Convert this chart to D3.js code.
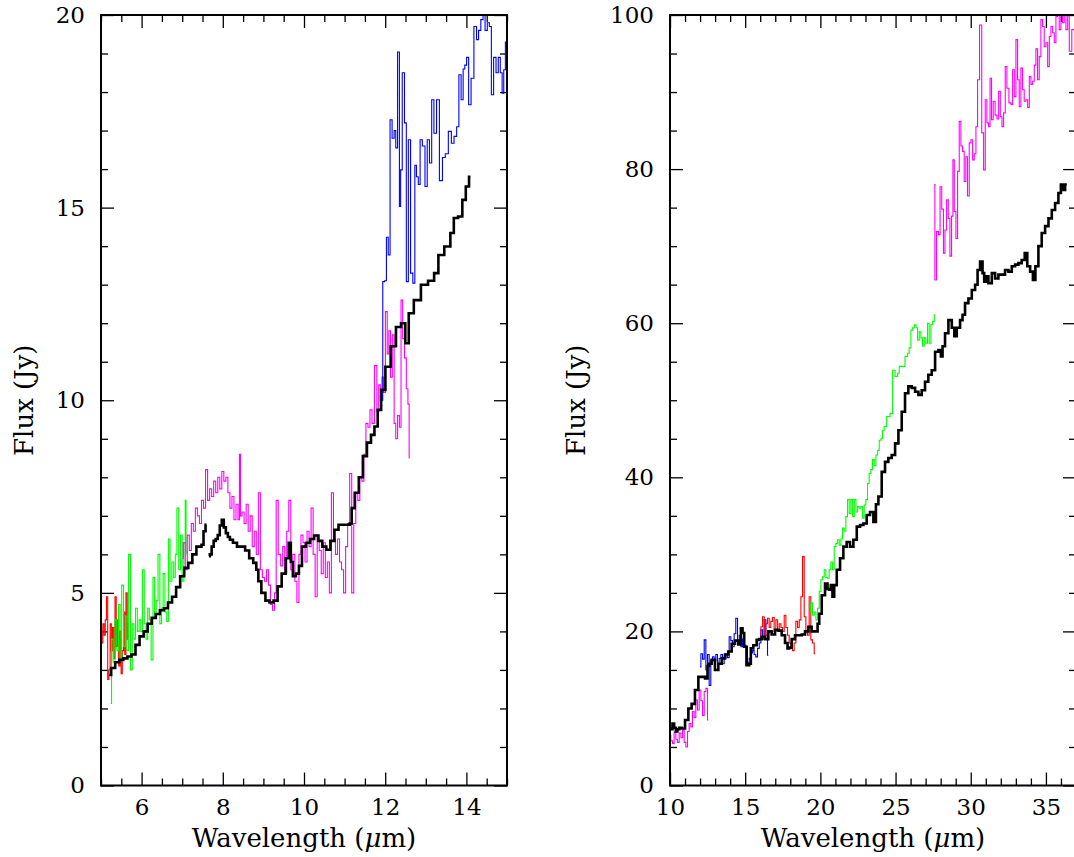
<!DOCTYPE html>
<html>
<head>
<meta charset="utf-8">
<script src="https://cdn.jsdelivr.net/npm/d3@7"></script>
<style>
  html, body { margin: 0; padding: 0; background: #fff; }
  svg { display: block; }
</style>
</head>
<body>
<script>
// ---------------- DATA ----------------
const leftXTicks = [6, 8, 10, 12, 14];
const leftYTicks = [0, 5, 10, 15, 20];
const rightXTicks = [10, 15, 20, 25, 30, 35];
const rightYTicks = [0, 20, 40, 60, 80, 100];

const leftRed = [[5.00,4.0],[5.03,3.7],[5.06,4.2],[5.09,3.9],[5.12,4.3],[5.15,4.9],[5.18,2.75],[5.21,3.0],[5.24,4.2],[5.27,3.5],[5.30,4.1],[5.33,3.3],[5.36,4.9],[5.39,3.6],[5.42,4.3],[5.45,3.1],[5.48,4.0],[5.51,2.9],[5.54,3.5],[5.57,4.5],[5.60,3.4],[5.63,5.0],[5.66,3.8],[5.69,4.2]];

const leftGreen = [[5.24,2.13],[5.28,3.8],[5.32,3.2],[5.37,4.3],[5.41,3.5],[5.45,4.7],[5.49,3.3],[5.53,5.2],[5.58,3.6],[5.62,4.4],[5.66,3.5],[5.70,6.0],[5.75,3.0],[5.79,4.2],[5.83,3.8],[5.87,4.6],[5.92,4.0],[5.96,4.3],[6.00,4.0],[6.04,5.6],[6.09,4.2],[6.13,3.8],[6.17,4.6],[6.21,4.3],[6.26,3.26],[6.30,5.4],[6.34,4.4],[6.38,4.8],[6.43,6.0],[6.47,4.2],[6.51,4.6],[6.55,5.5],[6.60,4.5],[6.64,4.26],[6.68,6.4],[6.72,5.3],[6.77,5.8],[6.81,5.4],[6.85,6.0],[6.89,7.2],[6.94,5.6],[6.98,6.5],[7.02,5.3],[7.06,6.3],[7.09,7.4],[7.10,6.0]];

const leftMagenta = [[7.00,5.9],[7.05,6.3],[7.10,5.6],[7.15,6.5],[7.20,6.1],[7.25,6.8],[7.30,6.6],[7.35,7.2],[7.40,7.0],[7.45,6.8],[7.50,7.4],[7.55,7.2],[7.60,8.2],[7.65,7.4],[7.70,7.7],[7.75,7.5],[7.80,7.9],[7.85,7.6],[7.90,8.0],[7.95,7.7],[8.00,8.15],[8.05,7.9],[8.10,8.0],[8.15,7.6],[8.20,7.2],[8.25,7.5],[8.30,6.9],[8.35,7.3],[8.40,6.9],[8.42,8.6],[8.45,7.0],[8.50,7.1],[8.55,6.8],[8.60,7.3],[8.65,6.6],[8.70,7.0],[8.75,6.2],[8.80,6.6],[8.85,6.0],[8.90,7.6],[8.95,5.6],[9.00,5.4],[9.05,5.3],[9.10,5.6],[9.15,5.2],[9.20,4.7],[9.25,4.55],[9.30,5.0],[9.33,7.4],[9.40,6.0],[9.45,5.7],[9.50,6.2],[9.55,5.5],[9.60,6.6],[9.65,7.4],[9.70,5.6],[9.75,6.0],[9.80,5.3],[9.85,4.75],[9.90,6.0],[9.95,6.5],[10.00,6.3],[10.05,5.8],[10.10,6.6],[10.15,6.2],[10.20,7.2],[10.25,6.0],[10.30,4.9],[10.35,6.5],[10.40,6.1],[10.45,5.5],[10.50,6.3],[10.55,5.4],[10.60,5.8],[10.65,5.0],[10.70,7.6],[10.75,6.4],[10.80,6.0],[10.85,6.4],[10.90,5.8],[10.95,5.6],[11.00,5.0],[11.05,6.2],[11.10,6.8],[11.15,8.1],[11.20,5.0],[11.25,6.8],[11.30,7.6],[11.35,7.4],[11.40,8.0],[11.45,7.9],[11.50,8.6],[11.55,9.4],[11.60,9.3],[11.65,9.75],[11.70,9.4],[11.77,10.9],[11.82,9.7],[11.86,10.4],[11.90,10.0],[11.94,10.6],[11.98,10.2],[12.03,12.3],[12.07,11.2],[12.11,11.8],[12.15,10.6],[12.20,11.7],[12.24,9.4],[12.28,9.0],[12.33,9.6],[12.37,9.3],[12.41,12.6],[12.45,11.6],[12.50,11.1],[12.54,10.3],[12.58,9.9],[12.60,8.5]];

const leftBlue = [[11.92,10.0],[11.96,13.08],[12.01,13.1],[12.05,14.23],[12.10,13.77],[12.14,17.28],[12.20,16.8],[12.24,17.0],[12.28,16.55],[12.33,19.04],[12.37,15.03],[12.39,15.98],[12.45,18.5],[12.50,17.2],[12.54,13.08],[12.60,16.76],[12.65,13.3],[12.71,13.04],[12.75,16.1],[12.79,15.8],[12.84,15.6],[12.88,16.76],[12.95,16.6],[13.01,15.55],[13.06,16.76],[13.12,16.16],[13.17,17.8],[13.23,16.93],[13.30,17.8],[13.37,15.7],[13.45,16.3],[13.51,16.4],[13.60,16.98],[13.66,16.67],[13.73,16.85],[13.79,17.1],[13.84,18.45],[13.90,17.8],[13.94,18.6],[13.98,18.7],[14.03,18.9],[14.08,17.67],[14.15,18.36],[14.22,19.7],[14.28,19.36],[14.32,19.6],[14.39,19.88],[14.43,20.2],[14.49,19.6],[14.54,19.8],[14.59,19.7],[14.64,17.93],[14.70,18.9],[14.76,18.5],[14.81,18.9],[14.86,18.5],[14.90,17.97],[14.94,18.58],[14.98,19.3],[15.03,19.5]];

const leftBlack = [[5.20,2.87],[5.30,3.05],[5.40,3.2],[5.50,3.26],[5.60,3.3],[5.70,3.35],[5.80,3.4],[5.90,3.65],[6.00,3.87],[6.10,4.0],[6.20,4.2],[6.30,4.35],[6.40,4.45],[6.50,4.55],[6.60,4.6],[6.70,4.75],[6.80,4.9],[6.90,5.15],[7.00,5.43],[7.10,5.65],[7.20,5.78],[7.30,6.0],[7.40,6.2],[7.45,6.2],[7.50,6.25],[7.55,6.6],[7.60,6.77],[7.63,null],[7.66,5.95],[7.70,6.0],[7.75,6.2],[7.80,6.35],[7.85,6.4],[7.90,6.5],[7.95,6.75],[8.00,6.9],[8.05,6.7],[8.10,6.55],[8.15,6.45],[8.20,6.38],[8.30,6.3],[8.40,6.2],[8.50,6.2],[8.60,6.1],[8.70,5.9],[8.80,5.78],[8.85,5.6],[8.90,5.3],[9.00,5.0],[9.10,4.8],[9.20,4.75],[9.30,4.8],[9.40,5.17],[9.50,5.5],[9.60,5.9],[9.65,6.3],[9.70,5.8],[9.75,5.43],[9.85,5.5],[9.90,5.7],[10.00,6.2],[10.10,6.3],[10.20,6.4],[10.30,6.49],[10.40,6.35],[10.50,6.2],[10.60,6.12],[10.70,6.35],[10.80,6.64],[10.90,6.77],[11.00,6.77],[11.10,6.77],[11.15,6.8],[11.20,7.2],[11.30,7.6],[11.40,8.0],[11.50,8.55],[11.60,8.9],[11.70,9.1],[11.77,9.32],[11.86,9.75],[11.94,10.27],[12.07,10.87],[12.20,11.4],[12.33,11.9],[12.45,12.0],[12.54,11.48],[12.62,12.26],[12.79,12.6],[12.97,13.0],[13.14,13.1],[13.27,13.3],[13.35,13.77],[13.56,13.99],[13.65,14.34],[13.73,14.73],[13.86,14.77],[13.94,15.2],[14.03,15.55],[14.10,15.8]];

const rightMagentaLow = [[10.00,6.5],[10.11,5.8],[10.22,5.45],[10.33,6.9],[10.44,6.0],[10.55,5.6],[10.67,6.8],[10.78,6.2],[10.89,7.2],[11.00,5.6],[11.11,5.0],[11.22,7.0],[11.33,8.05],[11.44,7.6],[11.55,9.6],[11.66,8.8],[11.77,11.1],[11.88,9.8],[12.00,12.4],[12.11,11.0],[12.22,9.1],[12.33,12.2],[12.44,12.6],[12.55,8.5]];

const rightBlue = [[12.00,15.4],[12.11,17.1],[12.22,16.4],[12.33,18.9],[12.44,15.0],[12.55,17.0],[12.66,13.0],[12.77,16.3],[12.88,16.7],[12.99,16.2],[13.10,17.0],[13.21,16.0],[13.33,16.5],[13.44,17.0],[13.55,15.8],[13.66,16.5],[13.77,17.1],[13.88,16.6],[13.99,19.3],[14.10,18.8],[14.21,18.0],[14.32,19.7],[14.43,21.7],[14.55,18.5],[14.66,19.5],[14.77,18.0],[14.88,19.0],[14.99,18.2],[15.10,15.6],[15.21,16.0],[15.32,16.5],[15.43,17.2],[15.54,17.5],[15.65,17.0],[15.76,16.7],[15.88,17.8],[15.99,18.5],[16.10,20.2],[16.21,19.0],[16.32,21.5],[16.43,19.5],[16.54,16.9]];

const rightRed = [[15.99,19.3],[16.10,20.6],[16.21,21.9],[16.32,19.1],[16.43,21.0],[16.54,21.7],[16.65,20.5],[16.76,21.3],[16.87,21.8],[16.98,20.0],[17.10,21.5],[17.21,20.2],[17.32,21.0],[17.43,20.5],[17.54,20.0],[17.65,22.1],[17.76,20.5],[17.87,19.5],[17.98,18.5],[18.09,18.0],[18.20,17.5],[18.31,18.5],[18.43,21.3],[18.54,20.5],[18.65,21.5],[18.76,24.5],[18.87,29.7],[18.98,21.9],[19.09,20.0],[19.20,19.5],[19.31,24.5],[19.42,18.9],[19.53,18.5],[19.65,17.1]];

const rightGreen = [[19.31,22.6],[19.42,23.7],[19.53,22.1],[19.65,22.5],[19.76,21.5],[19.87,23.0],[19.98,25.2],[20.09,26.7],[20.20,27.1],[20.31,28.0],[20.42,27.0],[20.53,26.9],[20.64,28.0],[20.75,29.0],[20.86,28.0],[20.98,31.0],[21.09,31.4],[21.20,31.9],[21.31,31.2],[21.42,32.0],[21.53,33.4],[21.64,33.0],[21.75,34.9],[21.86,37.1],[21.97,35.3],[22.08,37.1],[22.20,34.9],[22.31,37.1],[22.42,35.5],[22.53,36.2],[22.64,36.0],[22.75,36.2],[22.86,34.7],[22.97,36.4],[23.08,37.1],[23.19,39.2],[23.30,40.5],[23.41,41.0],[23.53,42.3],[23.64,41.5],[23.75,42.9],[23.86,43.5],[23.97,44.8],[24.08,45.0],[24.19,46.1],[24.30,46.6],[24.52,47.9],[24.75,48.3],[24.86,53.9],[25.08,53.1],[25.19,53.5],[25.30,54.4],[25.52,54.4],[25.74,55.7],[25.85,56.1],[25.96,56.8],[26.08,59.1],[26.19,59.4],[26.30,59.8],[26.41,59.4],[26.52,57.8],[26.63,58.9],[26.74,58.1],[26.85,57.0],[26.96,58.1],[27.07,57.4],[27.18,60.0],[27.29,57.4],[27.41,59.8],[27.52,60.2],[27.63,61.1]];

const rightMagentaHigh = [[27.56,78.0],[27.67,65.6],[27.78,71.9],[27.92,71.5],[28.00,77.7],[28.14,74.8],[28.23,69.1],[28.34,72.1],[28.45,76.0],[28.56,73.6],[28.67,68.7],[28.78,73.9],[28.85,81.2],[28.96,74.5],[29.07,71.0],[29.18,79.7],[29.29,86.2],[29.40,83.0],[29.51,82.3],[29.62,78.4],[29.73,81.6],[29.84,76.5],[29.96,83.4],[30.07,83.8],[30.18,81.2],[30.29,82.0],[30.40,85.5],[30.51,91.6],[30.66,98.7],[30.80,84.7],[30.91,79.9],[31.02,89.0],[31.13,86.0],[31.24,85.5],[31.33,91.8],[31.44,86.4],[31.55,88.8],[31.69,87.0],[31.80,86.5],[31.91,90.1],[32.02,86.8],[32.13,85.5],[32.24,87.3],[32.35,93.3],[32.46,90.5],[32.62,88.6],[32.73,88.4],[32.84,92.9],[32.95,89.4],[33.06,96.8],[33.17,91.6],[33.28,88.1],[33.39,93.1],[33.50,90.3],[33.61,88.8],[33.73,89.0],[33.84,88.0],[33.95,92.0],[34.06,91.0],[34.17,91.4],[34.28,93.5],[34.39,95.6],[34.50,91.6],[34.61,94.6],[34.72,99.4],[34.83,98.5],[34.94,95.9],[35.06,96.4],[35.17,93.3],[35.28,97.2],[35.39,98.5],[35.50,97.7],[35.61,96.4],[35.72,99.8],[35.83,100.5],[35.94,98.1],[36.05,100.5],[36.16,99.0],[36.27,101],[36.39,98.1],[36.50,100.5],[36.61,95.3],[36.83,98.1],[37.05,99.0]];

const rightBlack = [[10.00,7.4],[10.11,7.3],[10.22,8.05],[10.33,7.5],[10.44,7.0],[10.55,7.3],[10.67,7.5],[10.89,7.4],[11.11,8.5],[11.33,10.0],[11.55,10.6],[11.77,12.4],[12.00,14.1],[12.22,14.1],[12.44,13.9],[12.55,15.5],[12.66,15.8],[12.88,16.3],[13.10,15.0],[13.33,15.8],[13.55,16.5],[13.77,17.0],[13.99,17.4],[14.21,18.4],[14.43,18.8],[14.66,18.3],[14.77,20.4],[14.88,19.8],[14.99,18.0],[15.21,15.6],[15.32,15.8],[15.43,17.8],[15.65,18.2],[15.88,18.9],[15.99,19.0],[16.21,19.3],[16.43,19.0],[16.65,20.0],[16.87,19.6],[17.10,20.2],[17.32,20.1],[17.54,19.5],[17.76,18.5],[17.87,17.8],[17.98,17.9],[18.20,19.0],[18.43,19.5],[18.65,19.5],[18.87,19.6],[19.09,20.0],[19.31,20.6],[19.53,20.0],[19.76,20.0],[19.87,21.0],[19.98,22.3],[20.20,24.7],[20.42,26.2],[20.53,25.5],[20.64,25.4],[20.75,26.0],[20.86,24.5],[20.98,26.0],[21.20,28.0],[21.42,29.5],[21.64,31.0],[21.86,31.6],[22.08,31.0],[22.31,31.9],[22.53,33.6],[22.75,33.8],[22.97,34.0],[23.19,35.1],[23.41,35.5],[23.64,34.2],[23.75,36.5],[23.97,37.5],[24.19,40.7],[24.41,42.0],[24.63,42.5],[24.86,42.9],[25.08,44.4],[25.30,46.1],[25.52,48.5],[25.74,50.9],[25.96,51.8],[26.19,51.6],[26.41,51.1],[26.63,50.7],[26.85,51.3],[27.07,52.4],[27.29,53.3],[27.52,53.9],[27.74,56.3],[27.96,56.5],[28.07,55.7],[28.18,57.0],[28.40,58.7],[28.63,60.4],[28.85,59.4],[28.96,58.3],[29.18,59.4],[29.40,60.4],[29.51,61.1],[29.73,62.6],[29.96,63.2],[30.18,64.3],[30.40,65.0],[30.51,66.9],[30.73,68.0],[30.84,66.5],[30.95,65.4],[31.06,66.1],[31.29,65.2],[31.51,66.5],[31.73,65.8],[31.95,66.3],[32.17,66.3],[32.39,66.9],[32.62,66.7],[32.84,67.4],[33.06,67.6],[33.28,67.8],[33.50,68.2],[33.68,69.1],[33.84,67.4],[34.06,66.7],[34.21,65.6],[34.39,67.4],[34.61,70.0],[34.83,71.7],[35.06,72.6],[35.28,73.6],[35.50,74.7],[35.72,75.6],[35.94,76.9],[36.05,78.0],[36.16,77.3],[36.39,78.0]];

const xTitleParts = ["Wavelength (", "\u03BC", "m)"];
const yTitle = "Flux (Jy)";

// ---------------- DRAWING ----------------
const W = 1074, H = 857;
const svg = d3.select("body").append("svg").attr("width", W).attr("height", H);
const FONT = "'DejaVu Serif', 'Liberation Serif', serif";

function panel(cfg) {
  const { id, x0, y0, w, h, xDomain, yDomain, xTicks, yTicks, xMinorStep, yMinorStep, series } = cfg;
  const x = d3.scaleLinear().domain(xDomain).range([x0, x0 + w]);
  const y = d3.scaleLinear().domain(yDomain).range([y0 + h, y0]);
  const g = svg.append("g");

  svg.append("defs").append("clipPath").attr("id", id)
    .append("rect").attr("x", x0).attr("y", y0).attr("width", w).attr("height", h);

  const xMinor = d3.range(xDomain[0], xDomain[1] + 1e-9, xMinorStep).filter(v => !xTicks.includes(v));
  const yMinor = d3.range(yDomain[0], yDomain[1] + 1e-9, yMinorStep).filter(v => !yTicks.includes(v));

  const styleAxis = sel => {
    sel.select(".domain").remove();
    sel.selectAll(".tick line").attr("stroke", "#000").attr("stroke-width", 1.3);
    sel.selectAll("text").attr("font-family", FONT).attr("font-size", 23).attr("fill", "#000");
  };

  g.append("g").attr("transform", `translate(0,${y0 + h})`)
    .call(d3.axisBottom(x).tickValues(xTicks).tickSize(-13).tickPadding(13).tickFormat(d3.format("d")))
    .call(styleAxis);
  g.append("g").attr("transform", `translate(0,${y0 + h})`)
    .call(d3.axisBottom(x).tickValues(xMinor).tickSize(-7).tickFormat(""))
    .call(styleAxis);
  g.append("g").attr("transform", `translate(0,${y0})`)
    .call(d3.axisTop(x).tickValues(xTicks).tickSize(-13).tickFormat(""))
    .call(styleAxis);
  g.append("g").attr("transform", `translate(0,${y0})`)
    .call(d3.axisTop(x).tickValues(xMinor).tickSize(-7).tickFormat(""))
    .call(styleAxis);
  g.append("g").attr("transform", `translate(${x0},0)`)
    .call(d3.axisLeft(y).tickValues(yTicks).tickSize(-13).tickPadding(16).tickFormat(d3.format("d")))
    .call(styleAxis);
  g.append("g").attr("transform", `translate(${x0},0)`)
    .call(d3.axisLeft(y).tickValues(yMinor).tickSize(-7).tickFormat(""))
    .call(styleAxis);
  g.append("g").attr("transform", `translate(${x0 + w},0)`)
    .call(d3.axisRight(y).tickValues(yTicks).tickSize(-13).tickFormat(""))
    .call(styleAxis);
  g.append("g").attr("transform", `translate(${x0 + w},0)`)
    .call(d3.axisRight(y).tickValues(yMinor).tickSize(-7).tickFormat(""))
    .call(styleAxis);

  const plot = g.append("g").attr("clip-path", `url(#${id})`);
  const line = d3.line()
    .defined(d => d[1] !== null)
    .x(d => x(d[0])).y(d => y(d[1]))
    .curve(d3.curveStep);
  series.forEach(s => {
    plot.append("path").datum(s.data)
      .attr("fill", "none")
      .attr("stroke", s.color)
      .attr("stroke-width", s.width)
      .attr("stroke-linejoin", "miter")
      .attr("d", line);
  });

  g.append("rect").attr("x", x0).attr("y", y0).attr("width", w).attr("height", h)
    .attr("fill", "none").attr("stroke", "#000").attr("stroke-width", 2);

  const xt = g.append("text")
    .attr("x", x0 + w / 2).attr("y", 847)
    .attr("text-anchor", "middle")
    .attr("font-family", FONT).attr("font-size", 26).attr("fill", "#000");
  xt.append("tspan").text(xTitleParts[0]);
  xt.append("tspan").attr("font-style", "italic").text(xTitleParts[1]);
  xt.append("tspan").text(xTitleParts[2]);

  g.append("text")
    .attr("transform", `translate(${cfg.yTitleX},${y0 + h / 2}) rotate(-90)`)
    .attr("text-anchor", "middle")
    .attr("font-family", FONT).attr("font-size", 26).attr("fill", "#000")
    .text(yTitle);
}

const thin = 1.1, thick = 2.6;

panel({
  id: "clipL", x0: 101, y0: 15, w: 406, h: 770.5,
  xDomain: [5, 15], yDomain: [0, 20],
  xTicks: leftXTicks, yTicks: leftYTicks, xMinorStep: 0.5, yMinorStep: 1,
  yTitleX: 33,
  series: [
    { data: leftRed, color: "#ff0000", width: thin },
    { data: leftGreen, color: "#00ff00", width: thin },
    { data: leftMagenta, color: "#ff00ff", width: thin },
    { data: leftBlue, color: "#0000ff", width: thin },
    { data: leftBlack, color: "#000000", width: thick }
  ]
});

panel({
  id: "clipR", x0: 670, y0: 15, w: 406, h: 770.5,
  xDomain: [10, 37], yDomain: [0, 100],
  xTicks: rightXTicks, yTicks: rightYTicks, xMinorStep: 1, yMinorStep: 5,
  yTitleX: 585,
  series: [
    { data: rightMagentaLow, color: "#ff00ff", width: thin },
    { data: rightBlue, color: "#0000ff", width: thin },
    { data: rightRed, color: "#ff0000", width: thin },
    { data: rightGreen, color: "#00ff00", width: thin },
    { data: rightMagentaHigh, color: "#ff00ff", width: thin },
    { data: rightBlack, color: "#000000", width: thick }
  ]
});
</script>
</body>
</html>
